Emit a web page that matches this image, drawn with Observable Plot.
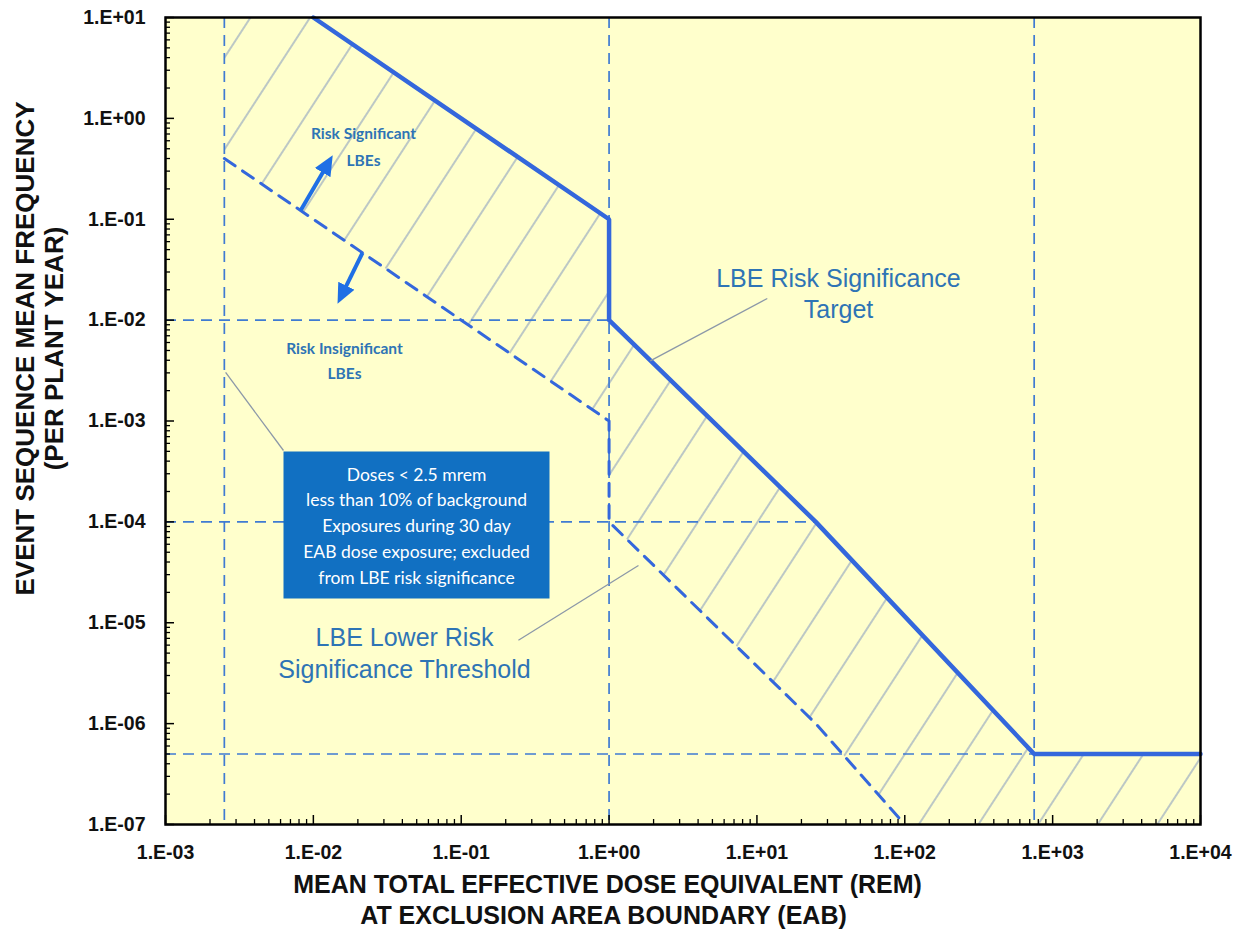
<!DOCTYPE html>
<html>
<head>
<meta charset="utf-8">
<script src="https://cdn.jsdelivr.net/npm/d3@7"></script>
<script src="https://cdn.jsdelivr.net/npm/@observablehq/plot@0.6"></script>
<style>
  body { margin: 0; background: #ffffff; }
</style>
</head>
<body>
<div id="chart"></div>
<script>
// LBE risk significance target (solid) — dose (rem) vs frequency (per plant year)
const targetDose = [1e-2, 1, 1, 25, 750, 1e4];
const targetFreq = [10, 0.1, 0.01, 1e-4, 5e-7, 5e-7];

// LBE lower risk significance threshold (dashed)
const thresholdDose = [2.5e-3, 1, 1, 25, 100];
const thresholdFreq = [0.4, 1e-3, 1e-4, 1e-6, 1e-7];

// Dashed reference lines
const refDose = [2.5e-3, 1, 750];          // vertical
const refFreq = [1e-2, 1e-4, 5e-7];        // horizontal
const refFreqEnd = [1, 25, 750];           // dose where each horizontal stops

// Axis decades and their labels
const doseTicks = [1e-3, 1e-2, 1e-1, 1e0, 1e1, 1e2, 1e3, 1e4];
const doseTickLabels = ["1.E-03", "1.E-02", "1.E-01", "1.E+00", "1.E+01", "1.E+02", "1.E+03", "1.E+04"];
const freqTicks = [1e-7, 1e-6, 1e-5, 1e-4, 1e-3, 1e-2, 1e-1, 1e0, 1e1];
const freqTickLabels = ["1.E-07", "1.E-06", "1.E-05", "1.E-04", "1.E-03", "1.E-02", "1.E-01", "1.E+00", "1.E+01"];

// Annotation arrows and leader lines (dose, frequency)
const arrows = [
  {x1: 8.2e-3, y1: 0.122, x2: 0.0126, y2: 0.36},
  {x1: 0.0215, y1: 0.0465, x2: 0.0155, y2: 0.0175}
];
const leaders = [
  {x1: 11.75, y1: 0.0164, x2: 1.9, y2: 3.95e-3},
  {x1: 0.2437, y1: 6.7e-6, x2: 1.58, y2: 3.7e-5},
  {x1: 6.28e-3, y1: 5.1e-4, x2: 2.55e-3, y2: 3.03e-3}
];

const xDomain = [1e-3, 1e4];
const yDomain = [1e-7, 10];

const W = 1237, H = 932;
const mTop = 17, mLeft = 165, mRight = 37, mBottom = 108;
const frameW = W - mLeft - mRight;
const frameH = H - mTop - mBottom;

const target = targetDose.map((x, i) => ({x, y: targetFreq[i]}));
const threshold = thresholdDose.map((x, i) => ({x, y: thresholdFreq[i]}));

// Band between threshold and target, closed along the frame edges
const band = [
  {x: thresholdDose[0], y: yDomain[1]},
  ...target,
  {x: xDomain[1], y: yDomain[0]},
  ...threshold.slice().reverse()
];

const vRefs = refDose.map(x => ({x}));
const hRefs = refFreq.map((y, i) => ({y, x1: xDomain[0], x2: refFreqEnd[i]}));

// minor log ticks 2..9 within each decade
const minor = (lo, hi) => {
  const out = [];
  for (let e = Math.log10(lo); e < Math.log10(hi); e++)
    for (let k = 2; k <= 9; k++) out.push(k * Math.pow(10, e));
  return out;
};

const blue = "#3467dc";
const refBlue = "#3f7bd2";
const noteBlue = "#2e74b5";
const arrowBlue = "#1f6fe5";
const leaderGray = "#8c98a8";
const sans = "Liberation Sans, Arial, sans-serif";
const calibriLike = "Lato, 'Open Sans', sans-serif";

// centred text placed at a pixel position
const at = (px, py) => ({frameAnchor: "top-left", dx: px - mLeft, dy: py - mTop, textAnchor: "middle", lineAnchor: "middle"});

const chart = Plot.plot({
  width: W,
  height: H,
  marginTop: mTop,
  marginLeft: mLeft,
  marginRight: mRight,
  marginBottom: mBottom,
  style: {background: "#ffffff", fontFamily: sans},
  x: {type: "log", domain: xDomain, axis: null},
  y: {type: "log", domain: yDomain, axis: null},
  marks: [
    Plot.frame({fill: "#ffffcc", stroke: "none"}),

    // hatched band
    Plot.line(band, {x: "x", y: "y", fill: "url(#lbe-hatch)", stroke: "none"}),

    // dashed reference lines
    Plot.ruleX(vRefs, {x: "x", stroke: refBlue, strokeWidth: 1.7, strokeDasharray: "11,7"}),
    Plot.ruleY(hRefs, {y: "y", x1: "x1", x2: "x2", stroke: refBlue, strokeWidth: 1.7, strokeDasharray: "11,7"}),

    // lower threshold and target
    Plot.line(threshold, {x: "x", y: "y", stroke: blue, strokeWidth: 3, strokeDasharray: "13,9"}),
    Plot.line(target, {x: "x", y: "y", stroke: blue, strokeWidth: 4.5, strokeLinejoin: "miter"}),

    // leader lines and arrows
    Plot.link(leaders, {x1: "x1", y1: "y1", x2: "x2", y2: "y2", stroke: leaderGray, strokeWidth: 1.3}),
    Plot.link(arrows, {x1: "x1", y1: "y1", x2: "x2", y2: "y2", stroke: arrowBlue, strokeWidth: 4}),

    // excluded-dose box
    Plot.frame({fill: "#1170c2", stroke: "none", insetLeft: 283 - mLeft, insetTop: 451 - mTop, insetRight: W - mRight - 549, insetBottom: H - mBottom - 598}),
    Plot.text(["Doses < 2.5 mrem\nless than 10% of background\nExposures during 30 day\nEAB dose exposure; excluded\nfrom LBE risk significance"], {
      ...at(416, 523.5), text: d => d, fill: "#ffffff", fontFamily: calibriLike, fontSize: 17.5, lineHeight: 25.8 / 17.5
    }),

    // region notes
    Plot.text(["Risk Significant\nLBEs"], {...at(363, 143.5), text: d => d, fill: noteBlue, fontFamily: calibriLike, fontWeight: "bold", fontSize: 15.5, lineHeight: 27 / 15.5}),
    Plot.text(["Risk Insignificant\nLBEs"], {...at(344, 357.5), text: d => d, fill: noteBlue, fontFamily: calibriLike, fontWeight: "bold", fontSize: 15.5, lineHeight: 25 / 15.5}),
    Plot.text(["LBE Risk Significance\nTarget"], {...at(838, 292.5), text: d => d, fill: noteBlue, fontFamily: sans, fontSize: 25, lineHeight: 31 / 25}),
    Plot.text(["LBE Lower Risk\nSignificance Threshold"], {...at(404, 651), text: d => d, fill: noteBlue, fontFamily: sans, fontSize: 25, lineHeight: 32 / 25}),

    // ticks (inside the frame)
    Plot.tickX(doseTicks, {x: d => d, insetTop: frameH - 9, stroke: "#000", strokeWidth: 1.5}),
    Plot.tickX(minor(xDomain[0], xDomain[1]), {x: d => d, insetTop: frameH - 5, stroke: "#000", strokeWidth: 1.3}),
    Plot.tickY(freqTicks, {y: d => d, insetRight: frameW - 9, stroke: "#000", strokeWidth: 1.5}),
    Plot.tickY(minor(yDomain[0], yDomain[1]), {y: d => d, insetRight: frameW - 5, stroke: "#000", strokeWidth: 1.3}),

    // tick labels
    Plot.text(doseTicks, {x: d => d, text: (d, i) => doseTickLabels[i], frameAnchor: "bottom", lineAnchor: "middle", dy: 28, fontSize: 19.5, fontWeight: "bold", fill: "#111"}),
    Plot.text(freqTicks, {y: d => d, text: (d, i) => freqTickLabels[i], frameAnchor: "left", lineAnchor: "middle", dx: -20, textAnchor: "end", fontSize: 19.5, fontWeight: "bold", fill: "#111"}),

    // axis titles
    Plot.text(["MEAN TOTAL EFFECTIVE DOSE EQUIVALENT (REM)"], {...at(607, 884), text: d => d, fontSize: 25, fontWeight: "bold", fill: "#111"}),
    Plot.text(["AT EXCLUSION AREA BOUNDARY (EAB)"], {...at(603, 915), text: d => d, fontSize: 25, fontWeight: "bold", fill: "#111"}),
    Plot.text(["EVENT SEQUENCE MEAN FREQUENCY"], {...at(25, 348), rotate: -90, text: d => d, fontSize: 26, fontWeight: "bold", fill: "#111"}),
    Plot.text(["(PER PLANT YEAR)"], {...at(54, 348), rotate: -90, text: d => d, fontSize: 26, fontWeight: "bold", fill: "#111"}),

    Plot.frame({stroke: "#000", strokeWidth: 2.5})
  ]
});

const svg = d3.select(chart);
const defs = svg.insert("defs", ":first-child");

// diagonal hatch used by the band
const pattern = defs.append("pattern")
  .attr("id", "lbe-hatch")
  .attr("patternUnits", "userSpaceOnUse")
  .attr("width", 50)
  .attr("height", 10)
  .attr("patternTransform", "translate(229,3.4) rotate(33)");
pattern.append("line")
  .attr("x1", 25).attr("x2", 25)
  .attr("y1", 0).attr("y2", 10)
  .attr("stroke", "#8499bf")
  .attr("stroke-width", 1.1);

// solid triangular head for the region arrows
defs.append("marker")
  .attr("id", "lbe-arrowhead")
  .attr("markerUnits", "userSpaceOnUse")
  .attr("viewBox", "0 -10 20 20")
  .attr("markerWidth", 20)
  .attr("markerHeight", 20)
  .attr("refX", 11)
  .attr("refY", 0)
  .attr("orient", "auto")
  .append("path")
  .attr("d", "M0,-9L20,0L0,9Z")
  .attr("fill", arrowBlue);
svg.selectAll(`g[stroke="${arrowBlue}"] path`).attr("marker-end", "url(#lbe-arrowhead)");

document.getElementById("chart").appendChild(chart);
</script>
</body>
</html>
